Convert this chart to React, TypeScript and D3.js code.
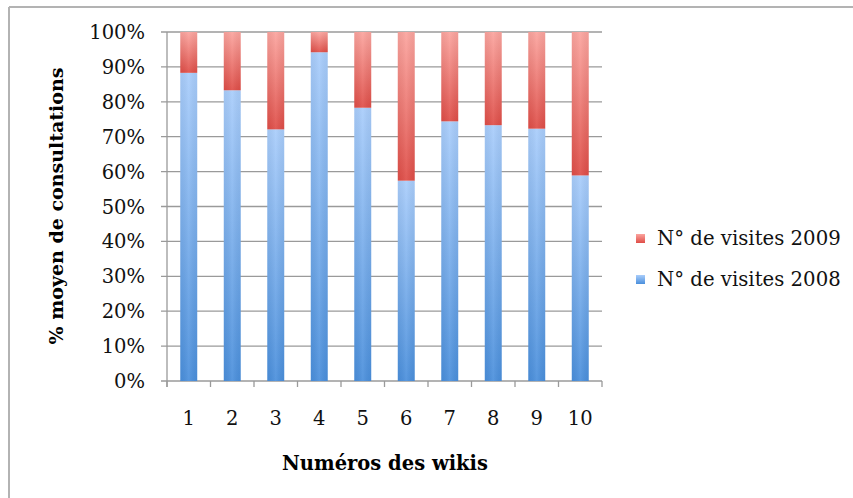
import React from "react";
import * as d3 from "d3";

const wikis = ["1", "2", "3", "4", "5", "6", "7", "8", "9", "10"];
const visites2008 = [88.3, 83.3, 72.1, 94.2, 78.3, 57.4, 74.4, 73.3, 72.3, 58.9];
const visites2009 = [11.7, 16.7, 27.9, 5.8, 21.7, 42.6, 25.6, 26.7, 27.7, 41.1];
const yTicks = [0, 10, 20, 30, 40, 50, 60, 70, 80, 90, 100];
const seriesNames = ["N° de visites 2009", "N° de visites 2008"];

const W = 853;
const H = 498;
const FONT = "'DejaVu Serif', serif";

export default function App() {
  const x = d3.scaleBand<string>().domain(wikis).range([167, 602]).paddingInner(0.61).paddingOuter(0.305);
  const y = d3.scaleLinear().domain([0, 100]).range([381, 32]);
  const step = x.step();
  const gridColor = "#9a9a9a";

  return (
    <svg width={W} height={H} style={{ position: "absolute", left: 0, top: 0, background: "#fff" }}>
      <defs>
        <linearGradient id="gBlue" x1="0" y1="0" x2="0" y2="1">
          <stop offset="0" stopColor="#a9cdfb" />
          <stop offset="1" stopColor="#4a8fdc" />
        </linearGradient>
        <linearGradient id="gRed" x1="0" y1="0" x2="0" y2="1">
          <stop offset="0" stopColor="#fba49e" />
          <stop offset="1" stopColor="#df4d47" />
        </linearGradient>
        <linearGradient id="gShade" x1="0" y1="0" x2="1" y2="0">
          <stop offset="0" stopColor="#000" stopOpacity="0.04" />
          <stop offset="0.5" stopColor="#fff" stopOpacity="0.08" />
          <stop offset="1" stopColor="#000" stopOpacity="0.04" />
        </linearGradient>
      </defs>
      {/* frame (top and left edges visible) */}
      <line x1={9} y1={7} x2={W} y2={7} stroke="#b3b3b3" strokeWidth={2} />
      <line x1={9} y1={7} x2={9} y2={H} stroke="#b3b3b3" strokeWidth={2} />

      {/* gridlines + y ticks */}
      {yTicks.map((t) => (
        <g key={t}>
          <line x1={161} x2={602} y1={y(t)} y2={y(t)} stroke={gridColor} strokeWidth={1.3} />
          <text x={145} y={y(t)} dy="0.36em" textAnchor="end" fontFamily={FONT} fontSize={19.5} fill="#111">
            {t}%
          </text>
        </g>
      ))}
      {/* y axis */}
      <line x1={167} x2={167} y1={y(100)} y2={y(0) + 6} stroke={gridColor} strokeWidth={1.3} />
      {/* x ticks */}
      {d3.range(wikis.length + 1).map((i) => (
        <line key={i} x1={167 + i * step} x2={167 + i * step} y1={y(0)} y2={y(0) + 6} stroke={gridColor} strokeWidth={1.3} />
      ))}

      {/* bars */}
      {wikis.map((w, i) => {
        const bx = x(w)!;
        const bw = x.bandwidth();
        const top2008 = y(visites2008[i]);
        const top2009 = y(visites2008[i] + visites2009[i]);
        return (
          <g key={w}>
            <rect x={bx} y={top2008} width={bw} height={y(0) - top2008} fill="url(#gBlue)" />
            <rect x={bx} y={top2009} width={bw} height={top2008 - top2009} fill="url(#gRed)" />
            <rect x={bx} y={top2009} width={bw} height={y(0) - top2009} fill="url(#gShade)" />
          </g>
        );
      })}

      {/* x labels */}
      {wikis.map((w) => (
        <text key={w} x={x(w)! + x.bandwidth() / 2} y={418} dy="0.36em" textAnchor="middle" fontFamily={FONT} fontSize={19.5} fill="#111">
          {w}
        </text>
      ))}

      {/* axis titles */}
      <text x={385} y={463} dy="0.36em" textAnchor="middle" fontFamily={FONT} fontSize={19.5} fontWeight="bold" fill="#000">
        Numéros des wikis
      </text>
      <text transform={`translate(56,206) rotate(-90)`} dy="0.36em" textAnchor="middle" fontFamily={FONT} fontSize={19} fontWeight="bold" fill="#000">
        % moyen de consultations
      </text>

      {/* legend */}
      {seriesNames.map((s, i) => (
        <g key={s} transform={`translate(636, ${238 + i * 41})`}>
          <rect x={0} y={-4} width={9} height={9} fill={i === 0 ? "url(#gRed)" : "url(#gBlue)"} />
          <text x={21} y={0} dy="0.36em" fontFamily={FONT} fontSize={19.7} fill="#111">
            {s}
          </text>
        </g>
      ))}
    </svg>
  );
}
